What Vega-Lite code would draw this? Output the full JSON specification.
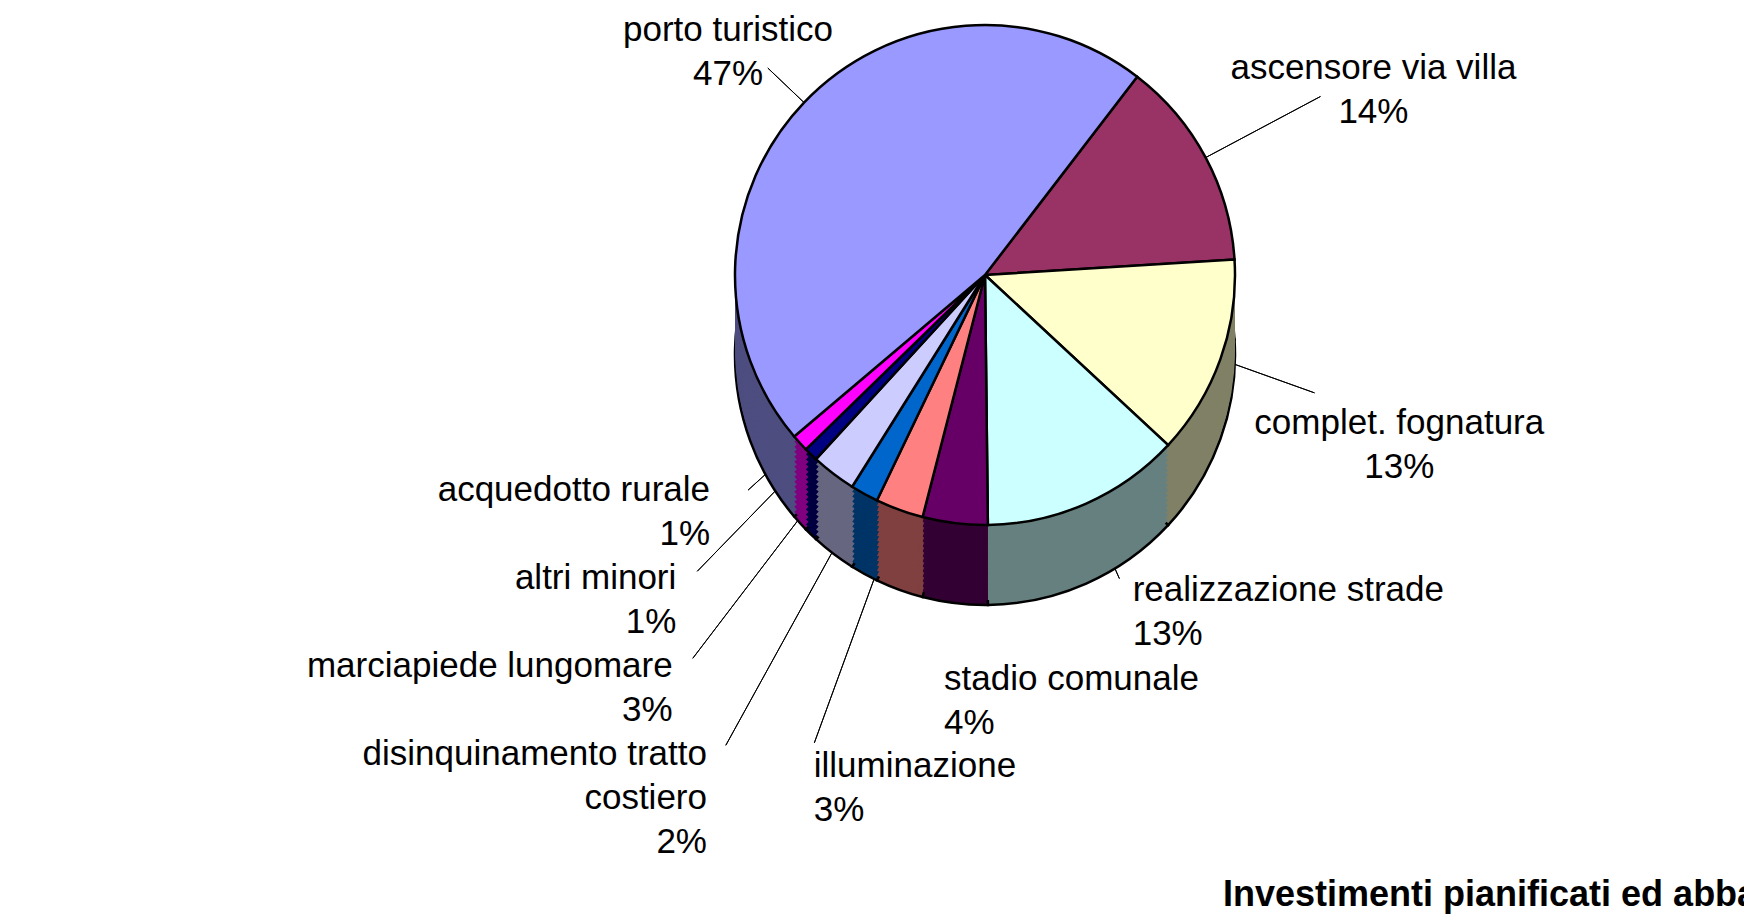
{
  "$schema": "https://vega.github.io/schema/vega-lite/v6.json",
  "width": 1000,
  "height": 550,
  "autosize": {"type": "none"},
  "padding": {"left": 485, "top": 0, "right": 259, "bottom": 372},
  "background": "white",
  "config": {"view": {"stroke": null}},
  "title": {
    "text": "Investimenti pianificati ed abbandonati",
    "orient": "top",
    "anchor": "start",
    "frame": "group",
    "dx": 738,
    "offset": -942,
    "baseline": "alphabetic",
    "font": "Liberation Sans",
    "fontSize": 36,
    "fontWeight": "bold",
    "color": "black"
  },
  "data": {
    "values": [
      {"name": "ascensore via villa", "value": 13.6},
      {"name": "complet. fognatura", "value": 12.9},
      {"name": "realizzazione strade", "value": 12.9},
      {"name": "stadio comunale", "value": 4.2},
      {"name": "illuminazione", "value": 3.1},
      {"name": "disinquinamento tratto costiero", "value": 1.8},
      {"name": "marciapiede lungomare", "value": 2.9},
      {"name": "altri minori", "value": 0.9},
      {"name": "acquedotto rurale", "value": 1.1},
      {"name": "porto turistico", "value": 46.6}
    ]
  },
  "transform": [
    {"stack": "value", "groupby": [], "as": ["v0", "v1"]},
    {"calculate": "(datum.v0 + datum.v1) / 2", "as": "mid"},
    {"calculate": "datum.name == 'disinquinamento tratto costiero' ? ['disinquinamento tratto', 'costiero', format(datum.value, '.0f') + '%'] : [datum.name, format(datum.value, '.0f') + '%']", "as": "label"}
  ],
  "layer": [
    {
      "transform": [{"filter": "datum.name != 'stadio comunale'"}],
      "mark": {"type": "arc", "radius2": 250, "radius": {"expr": "({'porto turistico': 300, 'ascensore via villa': 380, 'complet. fognatura': 350, 'realizzazione strade': 332, 'illuminazione': 498, 'acquedotto rurale': 320, 'altri minori': 413, 'marciapiede lungomare': 482, 'disinquinamento tratto costiero': 537})[datum.name]"}, "fillOpacity": 0, "stroke": "black", "strokeWidth": 1},
      "encoding": {
        "theta": {"field": "mid", "type": "quantitative", "stack": null, "scale": {"domain": [0, 100], "range": [0.6545, 6.9377], "zero": false, "nice": false}},
        "theta2": {"field": "mid"}
      }
    },
    {
      "encoding": {
        "theta": {"field": "v0", "type": "quantitative", "stack": null, "scale": {"domain": [0, 100], "range": [0.6545, 6.9377], "zero": false, "nice": false}},
        "theta2": {"field": "v1"},
        "color": {"field": "name", "type": "nominal", "legend": null, "scale": {"domain": ["ascensore via villa", "complet. fognatura", "realizzazione strade", "stadio comunale", "illuminazione", "disinquinamento tratto costiero", "marciapiede lungomare", "altri minori", "acquedotto rurale", "porto turistico"], "range": ["#4D1A33", "#808066", "#668080", "#330033", "#804040", "#003366", "#666680", "#000040", "#800080", "#4D4D80"]}}
      },
      "layer": [
        {"mark": {"type": "arc", "radius": 250, "yOffset": 80, "stroke": "black", "strokeWidth": 2.5}},
        {"mark": {"type": "arc", "radius": 250, "yOffset": 75}},
        {"mark": {"type": "arc", "radius": 250, "yOffset": 70}},
        {"mark": {"type": "arc", "radius": 250, "yOffset": 65}},
        {"mark": {"type": "arc", "radius": 250, "yOffset": 60}},
        {"mark": {"type": "arc", "radius": 250, "yOffset": 55}},
        {"mark": {"type": "arc", "radius": 250, "yOffset": 50}},
        {"mark": {"type": "arc", "radius": 250, "yOffset": 45}},
        {"mark": {"type": "arc", "radius": 250, "yOffset": 40}},
        {"mark": {"type": "arc", "radius": 250, "yOffset": 35}},
        {"mark": {"type": "arc", "radius": 250, "yOffset": 30}},
        {"mark": {"type": "arc", "radius": 250, "yOffset": 25}},
        {"mark": {"type": "arc", "radius": 250, "yOffset": 20}},
        {"mark": {"type": "arc", "radius": 250, "yOffset": 15}},
        {"mark": {"type": "arc", "radius": 250, "yOffset": 10}},
        {"mark": {"type": "arc", "radius": 250, "yOffset": 5}}
      ]
    },
    {
      "mark": {"type": "arc", "radius": 250, "stroke": "black", "strokeWidth": 2.5},
      "encoding": {
        "theta": {"field": "v0", "type": "quantitative", "stack": null, "scale": {"domain": [0, 100], "range": [0.6545, 6.9377], "zero": false, "nice": false}},
        "theta2": {"field": "v1"},
        "color": {"field": "name", "type": "nominal", "legend": null, "scale": {"domain": ["ascensore via villa", "complet. fognatura", "realizzazione strade", "stadio comunale", "illuminazione", "disinquinamento tratto costiero", "marciapiede lungomare", "altri minori", "acquedotto rurale", "porto turistico"], "range": ["#993366", "#FFFFCC", "#CCFFFF", "#660066", "#FF8080", "#0066CC", "#CCCCFF", "#000080", "#FF00FF", "#9999FF"]}}
      }
    },
    {
      "transform": [{"filter": "indexof(['porto turistico', 'ascensore via villa', 'complet. fognatura'], datum.name) >= 0"}],
      "mark": {"type": "text", "align": "center", "baseline": "middle", "font": "Liberation Sans", "fontSize": 35, "lineHeight": 44, "color": "black", "radius": {"expr": "({'porto turistico': 355, 'ascensore via villa': 440, 'complet. fognatura': 440})[datum.name]"}},
      "encoding": {
        "theta": {"field": "mid", "type": "quantitative", "stack": null, "scale": {"domain": [0, 100], "range": [0.6545, 6.9377], "zero": false, "nice": false}},
        "text": {"field": "label"}
      }
    },
    {
      "transform": [{"filter": "indexof(['realizzazione strade', 'stadio comunale', 'illuminazione'], datum.name) >= 0"}],
      "mark": {"type": "text", "align": "left", "dx": 8, "baseline": "middle", "font": "Liberation Sans", "fontSize": 35, "lineHeight": 44, "color": "black", "radius": {"expr": "({'realizzazione strade': 345, 'stadio comunale': 407, 'illuminazione': 523})[datum.name]"}},
      "encoding": {
        "theta": {"field": "mid", "type": "quantitative", "stack": null, "scale": {"domain": [0, 100], "range": [0.6545, 6.9377], "zero": false, "nice": false}},
        "text": {"field": "label"}
      }
    },
    {
      "transform": [{"filter": "indexof(['disinquinamento tratto costiero', 'marciapiede lungomare', 'altri minori'], datum.name) >= 0"}],
      "mark": {"type": "text", "align": "right", "dx": -14, "baseline": "middle", "font": "Liberation Sans", "fontSize": 35, "lineHeight": 44, "color": "black", "radius": {"expr": "({'altri minori': 423, 'marciapiede lungomare': 492, 'disinquinamento tratto costiero': 547})[datum.name]"}},
      "encoding": {
        "theta": {"field": "mid", "type": "quantitative", "stack": null, "scale": {"domain": [0, 100], "range": [0.6545, 6.9377], "zero": false, "nice": false}},
        "text": {"field": "label"}
      }
    },
    {
      "transform": [{"filter": "datum.name == 'acquedotto rurale'"}],
      "mark": {"type": "text", "align": "right", "dx": -38, "baseline": "middle", "font": "Liberation Sans", "fontSize": 35, "lineHeight": 44, "color": "black", "radius": 320},
      "encoding": {
        "theta": {"field": "mid", "type": "quantitative", "stack": null, "scale": {"domain": [0, 100], "range": [0.6545, 6.9377], "zero": false, "nice": false}},
        "text": {"field": "label"}
      }
    }
  ],
  "resolve": {"scale": {"color": "independent"}}
}
